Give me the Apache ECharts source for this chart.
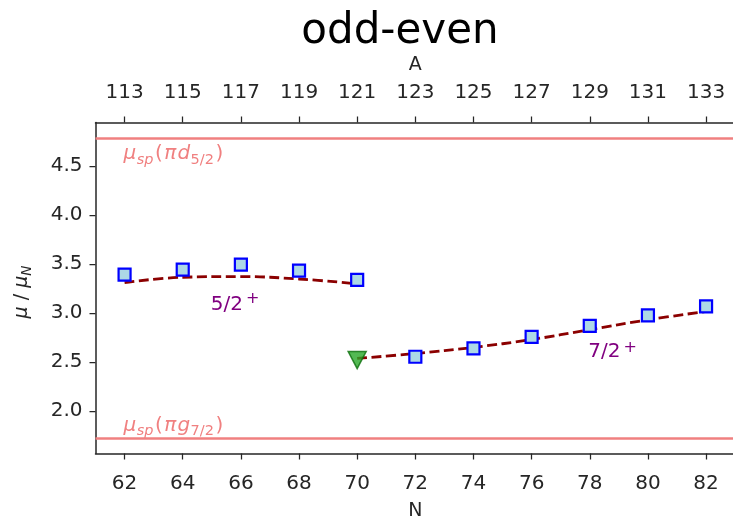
<!DOCTYPE html>
<html>
<head>
<meta charset="utf-8">
<script src="https://cdn.jsdelivr.net/npm/echarts@6/dist/echarts.min.js"></script>
<style>
  html, body { margin: 0; padding: 0; background: #ffffff; }
  #chart { width: 733px; height: 520px; }
</style>
</head>
<body>
<div id="chart"></div>
<script>
// Magnetic moments of odd-A Sb isotopes (Z = 51) versus neutron number N
const protonZ = 51;
const neutronTicks = [62, 64, 66, 68, 70, 72, 74, 76, 78, 80, 82];
const muTicks = [2.0, 2.5, 3.0, 3.5, 4.0, 4.5];

// 5/2+ ground states
const groundN = [62, 64, 66, 68, 70];
const groundMu = [3.392, 3.443, 3.494, 3.433, 3.338];
const groundFit = [3.311, 3.365, 3.372, 3.347, 3.298];

// 7/2+ states
const upperN = [72, 74, 76, 78, 80, 82];
const upperMu = [2.552, 2.637, 2.755, 2.867, 2.976, 3.067];
const isomerN = [70];
const isomerMu = [2.518];
const upperFitN = [70, 72, 74, 76, 78, 80, 82];
const upperFit = [2.535, 2.585, 2.648, 2.728, 2.830, 2.930, 3.015];

// Schmidt (single-particle) values
const schmidtD52 = 4.793;
const schmidtG72 = 1.717;

const INK = '#262626';
const FONT = '"DejaVu Sans"';
const pairs = (xs, ys) => xs.map((x, i) => [x, ys[i]]);

const chart = echarts.init(document.getElementById('chart'), null, { renderer: 'canvas' });

function neutronAxis(position) {
  return {
    type: 'value', position: position, min: 61, max: 83,
    name: position === 'top' ? 'A' : 'N',
    nameLocation: 'middle', nameGap: 48,
    nameTextStyle: { fontFamily: FONT, fontSize: 19, color: INK },
    axisLine: { show: true, onZero: false, lineStyle: { color: INK, width: 1.5 } },
    axisTick: { show: true, inside: false, length: 6, customValues: neutronTicks,
                lineStyle: { color: INK, width: 1.25 } },
    axisLabel: { show: true, margin: 20, customValues: neutronTicks,
                 fontFamily: FONT, fontSize: 20, color: INK,
                 formatter: v => String(position === 'top' ? v + protonZ : v) },
    splitLine: { show: false }
  };
}

const fitLine = (data) => ({
  type: 'line', data: data, smooth: 0.4, showSymbol: false, symbol: 'none',
  xAxisIndex: 0, yAxisIndex: 0, z: 3, silent: true,
  lineStyle: { color: '#8b0000', width: 2.8, type: [10, 4.5] }
});

const squares = (data) => ({
  type: 'scatter', data: data, symbol: 'rect', symbolSize: 12, z: 5,
  xAxisIndex: 0, yAxisIndex: 0,
  itemStyle: { color: '#add8e6', borderColor: '#0000ff', borderWidth: 2.2, opacity: 1 }
});

chart.setOption({
  animation: false,
  backgroundColor: '#ffffff',
  grid: { left: 95.5, top: 122.5, width: 639.65, height: 331,
          containLabel: false, outerBoundsMode: 'none' },
  xAxis: [neutronAxis('bottom'), neutronAxis('top')],
  yAxis: {
    type: 'value', min: 1.563, max: 4.947,
    axisLine: { show: true, onZero: false, lineStyle: { color: INK, width: 1.5 } },
    axisTick: { show: true, length: 6, customValues: muTicks, lineStyle: { color: INK, width: 1.25 } },
    axisLabel: { show: true, margin: 13, customValues: muTicks, fontFamily: FONT, fontSize: 20,
                 color: INK, formatter: v => v.toFixed(1) },
    splitLine: { show: false }
  },
  series: [
    {
      type: 'line', data: [], silent: true, z: 1,
      markLine: {
        silent: true, symbol: 'none', animation: false,
        label: { show: false },
        lineStyle: { color: '#f08080', width: 2.5, type: 'solid' },
        data: [{ yAxis: schmidtD52 }, { yAxis: schmidtG72 }]
      }
    },
    fitLine(pairs(groundN, groundFit)),
    fitLine(pairs(upperFitN, upperFit)),
    squares(pairs(groundN, groundMu)),
    squares(pairs(upperN, upperMu)),
    {
      type: 'scatter', data: pairs(isomerN, isomerMu), symbol: 'triangle', symbolRotate: 180,
      symbolSize: [18, 17], z: 5,
      itemStyle: { color: '#28a828', borderColor: '#0a6e0a', borderWidth: 1.5 }
    }
  ]
});

// Composite text (math-like labels) built from individually placed pieces on a shared baseline
const measureCtx = document.createElement('canvas').getContext('2d');
function pieceFont(p) { return (p.italic ? 'italic ' : '') + p.size + 'px ' + FONT; }
function mathGroup(pieces, color, x, baseline) {
  let cx = 0;
  const children = pieces.map(p => {
    measureCtx.font = pieceFont(p);
    const w = measureCtx.measureText(p.text).width;
    const el = {
      type: 'text', x: cx + (p.dx || 0), y: (p.dy || 0) - 0.297 * p.size,
      style: { text: p.text, font: pieceFont(p), fill: color, align: 'left', verticalAlign: 'middle' }
    };
    cx += w + (p.dx || 0) + (p.gap || 0);
    return el;
  });
  return { width: cx, el: { type: 'group', x: x, y: baseline, children: children, silent: true } };
}

function schmidtLabel(orbital, spin) {
  return [
    { text: 'μ', size: 20, italic: true, gap: 0.5 },
    { text: 'sp', size: 14.5, italic: true, dy: 4, gap: 1.5 },
    { text: '(', size: 20, gap: 1.5 },
    { text: 'π', size: 20, italic: true, gap: 1 },
    { text: orbital, size: 20, italic: true, gap: 0.5 },
    { text: spin, size: 14.5, dy: 4, gap: 1.5 },
    { text: ')', size: 20 }
  ];
}

function spinLabel(spin, lift) {
  return [
    { text: spin, size: 20 },
    { text: '+', size: 16, dy: -lift, dx: 3 }
  ];
}

function drawAnnotations() {
  const px = (n, mu) => chart.convertToPixel({ xAxisIndex: 0, yAxisIndex: 0 }, [n, mu]);
  const graphics = [];
  const dTop = px(62, schmidtD52);
  const gBot = px(62, schmidtG72);
  graphics.push(mathGroup(schmidtLabel('d', '5/2'), '#f08080', dTop[0] - 1, dTop[1] + 22.5).el);
  graphics.push(mathGroup(schmidtLabel('g', '7/2'), '#f08080', gBot[0] - 1, gBot[1] - 6.5).el);

  const s1 = px(65.55, 3.105);
  const g1 = mathGroup(spinLabel('5/2', 7), '#800080', 0, 0);
  g1.el.x = s1[0] - 17; g1.el.y = s1[1] + 8;
  graphics.push(g1.el);
  const s2 = px(78.5, 2.62);
  const g2 = mathGroup(spinLabel('7/2', 5.5), '#800080', 0, 0);
  g2.el.x = s2[0] - 16; g2.el.y = s2[1] + 8;
  graphics.push(g2.el);

  // y-axis title, rotated
  const yt = mathGroup([
    { text: 'μ', size: 19, italic: true },
    { text: ' / ', size: 19 },
    { text: 'μ', size: 19, italic: true },
    { text: 'N', size: 13.5, italic: true, dy: 4 }
  ], INK, 0, 0);
  yt.el.rotation = Math.PI / 2;
  yt.el.x = 28;
  yt.el.y = 292 + yt.width / 2;
  graphics.push(yt.el);

  // figure title
  graphics.push({
    type: 'text', x: 400, y: 32, silent: true,
    style: { text: 'odd-even', font: '42px ' + FONT, fill: '#000000', align: 'center', verticalAlign: 'middle' }
  });
  chart.setOption({ graphic: graphics });
}
drawAnnotations();
</script>
</body>
</html>
